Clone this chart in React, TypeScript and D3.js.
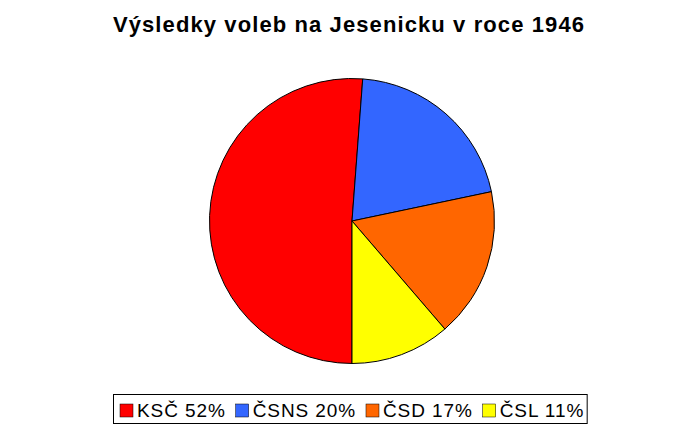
import React, { useEffect, useRef } from 'react'
import * as d3 from 'd3'

const parties = ['KSČ', 'ČSNS', 'ČSD', 'ČSL']
// slice sizes
const shares = [51.2, 20.5, 17.0, 11.3]
// percentages printed in the legend
const legendPercents = ['52%', '20%', '17%', '11%']
const colors = ['#ff0000', '#3366ff', '#ff6600', '#ffff00']
const title = 'Výsledky voleb na Jesenicku v roce 1946'

export default function App() {
  const svgRef = useRef<SVGSVGElement>(null)
  const width = 689
  const height = 425

  useEffect(() => {
    if (!svgRef.current) return
    const svg = d3.select(svgRef.current)
    svg.selectAll('*').remove()

    svg.append('rect').attr('width', width).attr('height', height).attr('fill', '#fff')

    svg.append('text')
      .attr('x', 349)
      .attr('y', 32)
      .attr('text-anchor', 'middle')
      .style('font-family', 'Arial, "Liberation Sans", sans-serif')
      .style('font-size', '22px')
      .style('font-weight', 'bold')
      .style('letter-spacing', '1.1px')
      .text(title)

    // pie starts at the bottom and runs clockwise
    const data = parties.map((p, i) => ({
      party: p, value: shares[i], label: legendPercents[i], color: colors[i]
    }))
    const pie = d3.pie<typeof data[number]>()
      .value(d => d.value)
      .sort(null)
      .startAngle(Math.PI)
      .endAngle(Math.PI * 3)
    const arc = d3.arc<d3.PieArcDatum<typeof data[number]>>()
      .innerRadius(0)
      .outerRadius(142.5)

    const g = svg.append('g').attr('transform', 'translate(352,221)')
    g.selectAll('path')
      .data(pie(data))
      .join('path')
      .attr('d', arc)
      .attr('fill', d => d.data.color)
      .attr('stroke', '#000')
      .attr('stroke-width', 1)

    // Legend
    const legend = svg.append('g')
    const items = legend.selectAll('g')
      .data(data)
      .join('g')
    items.append('rect')
      .attr('width', 13)
      .attr('height', 13)
      .attr('y', 404)
      .attr('fill', d => d.color)
      .attr('stroke', '#000')
      .attr('stroke-width', 0.5)
    items.append('text')
      .attr('y', 417)
      .style('font-family', 'Arial, "Liberation Sans", sans-serif')
      .style('font-size', '19px')
      .style('letter-spacing', '0.9px')
      .text(d => `${d.party} ${d.label}`)

    let x = 120
    items.each(function () {
      const item = d3.select(this)
      item.select('rect').attr('x', x)
      const t = item.select<SVGTextElement>('text').attr('x', x + 17)
      x += 17 + t.node()!.getComputedTextLength() + 10
    })

    legend.insert('rect', ':first-child')
      .attr('x', 113.5)
      .attr('y', 394.5)
      .attr('width', x - 10 + 3 - 113.5)
      .attr('height', 29)
      .attr('fill', '#fff')
      .attr('stroke', '#000')
      .attr('stroke-width', 1)
  }, [])

  return (
    <svg
      ref={svgRef}
      width={width}
      height={height}
      style={{ position: 'absolute', left: 0, top: 0 }}
    />
  )
}
